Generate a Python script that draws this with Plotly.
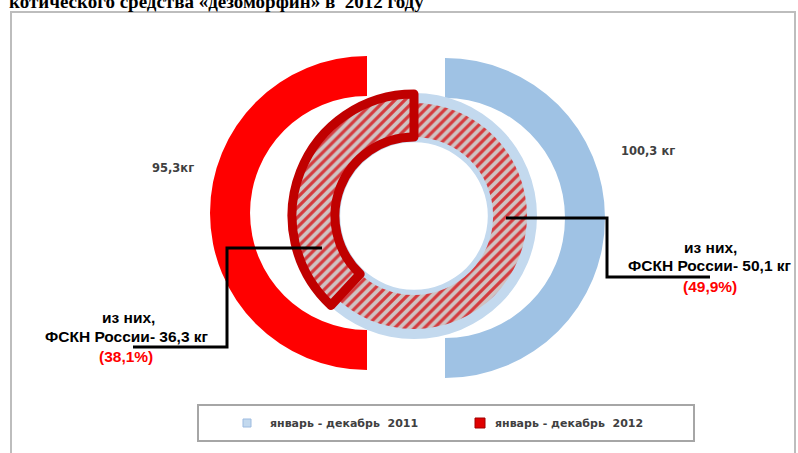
import plotly.graph_objects as go

# data
periods = ["январь - декабрь\u00a0 2011", "январь - декабрь\u00a0 2012"]
total_kg = [100.3, 95.3]
fskn_kg = [50.1, 36.3]
fskn_share = [49.9, 38.1]

W, H = 798, 453

RED = "#ff0000"
DARK_RED = "#c00000"
BLUE = "#9fc2e4"
LIGHT_BLUE = "#c3d9ee"
HATCH_FG = "#d43a3e"
HATCH_BG = "#cfc3c3"
CLEAR = "rgba(0,0,0,0)"


def fmt(v):
    return f"{v:.1f}".replace(".", ",")


def dom(cx, cy, r):
    # pie domain (paper fractions) from a centre and radius in pixels
    return dict(x=[(cx - r) / W, (cx + r) / W], y=[1 - (cy + r) / H, 1 - (cy - r) / H])


def px(x, y):
    return x / W, 1 - y / H


fig = go.Figure()

common = dict(sort=False, textinfo="none", hoverinfo="skip", showlegend=False,
              direction="clockwise", rotation=0)

# outer half ring 2012 (left): clear right half, red left half
fig.add_trace(go.Pie(values=[total_kg[1], total_kg[1]],
                     marker=dict(colors=[CLEAR, RED], line=dict(width=0)),
                     hole=0.745, domain=dom(367, 213, 157), **common))
# outer half ring 2011 (right)
fig.add_trace(go.Pie(values=[total_kg[0], total_kg[0]],
                     marker=dict(colors=[BLUE, CLEAR], line=dict(width=0)),
                     hole=0.75, domain=dom(445, 218, 160), **common))
# inner ring 2011 - light blue base
fig.add_trace(go.Pie(values=[total_kg[0]],
                     marker=dict(colors=[LIGHT_BLUE], line=dict(width=0)),
                     hole=0.6, domain=dom(414, 216, 123), **common))
# inner ring 2011 - hatched band
fig.add_trace(go.Pie(values=[total_kg[0]],
                     marker=dict(colors=[HATCH_BG], line=dict(width=0),
                                 pattern=dict(shape="/", fgcolor=HATCH_FG, bgcolor=HATCH_BG,
                                              size=7, solidity=0.45, fillmode="replace")),
                     hole=0.70, domain=dom(414, 216, 113), **common))
# inner segment 2012 - FSKN share, runs counterclockwise from 12 o'clock
fig.add_trace(go.Pie(values=[total_kg[1] - fskn_kg[1], fskn_kg[1]],
                     marker=dict(colors=[CLEAR, HATCH_BG],
                                 line=dict(color=[CLEAR, DARK_RED], width=[0, 9]),
                                 pattern=dict(shape=["", "/"], fgcolor=[CLEAR, HATCH_FG],
                                              bgcolor=[CLEAR, HATCH_BG],
                                              size=7, solidity=0.45, fillmode="replace")),
                     hole=0.648, domain=dom(414, 216, 122), **common))

shapes = []
# outer frame
x0, y0 = px(11, 12)
x1, _ = px(795, 0)
shapes.append(dict(type="rect", xref="paper", yref="paper", x0=x0, x1=x1, y0=-0.1, y1=y0,
                   line=dict(color="#bdbdbd", width=2), fillcolor="white", layer="below"))

# leader lines
for pts in ([(322, 248), (227, 248), (227, 347), (133, 347)],
            [(506, 218), (607, 218), (607, 277), (710, 277)]):
    path = "M " + " L ".join(f"{px(a, b)[0]},{px(a, b)[1]}" for a, b in pts)
    shapes.append(dict(type="path", xref="paper", yref="paper", path=path,
                       line=dict(color="black", width=3)))

# legend box and swatches
lx0, ly0 = px(198, 405)
lx1, ly1 = px(694, 441)
shapes.append(dict(type="rect", xref="paper", yref="paper", x0=lx0, x1=lx1, y0=ly1, y1=ly0,
                   line=dict(color="#a6a6a6", width=2)))
for (cx, cy, s, fc, lc) in [(247, 423, 8, LIGHT_BLUE, "#9dbbe0"), (480, 423, 10, "#e00000", "#a00000")]:
    a0, b0 = px(cx - s / 2, cy - s / 2)
    a1, b1 = px(cx + s / 2, cy + s / 2)
    shapes.append(dict(type="rect", xref="paper", yref="paper", x0=a0, x1=a1, y0=b1, y1=b0,
                       fillcolor=fc, line=dict(color=lc, width=1)))

annotations = []


def note(text, x, y, size, color="black", family="Liberation Sans", bold=True, xanchor="center"):
    ax, ay = px(x, y)
    annotations.append(dict(text=f"<b>{text}</b>" if bold else text, x=ax, y=ay, xref="paper",
                            yref="paper", xanchor=xanchor, yanchor="middle", showarrow=False,
                            font=dict(family=family, size=size, color=color)))


# cut-off title
note("котического средства «дезоморфин» в\u00a0 2012 году", 7, 1, 19,
     family="Liberation Serif", xanchor="left")

# totals
note(fmt(total_kg[1]) + "кг", 173, 168, 11.5, color="#404040", family="DejaVu Sans")
note(fmt(total_kg[0]) + " кг", 648, 151, 11.5, color="#404040", family="DejaVu Sans")

# FSKN labels
note("из них,", 128, 317, 15.5)
note(f"ФСКН России- {fmt(fskn_kg[1])} кг", 127, 336, 15.5)
note(f"({fmt(fskn_share[1])}%)", 126, 356, 15.5, color=RED)
note("из них,", 710, 247, 15.5)
note(f"ФСКН России- {fmt(fskn_kg[0])} кг", 710, 265, 15.5)
note(f"({fmt(fskn_share[0])}%)", 710, 286, 15.5, color=RED)

# legend texts
note(periods[0], 268, 423, 11, color="#404040", family="DejaVu Sans", xanchor="left")
note(periods[1], 493, 423, 11, color="#404040", family="DejaVu Sans", xanchor="left")

fig.update_layout(width=W, height=H, margin=dict(l=0, r=0, t=0, b=0),
                  paper_bgcolor="white", plot_bgcolor="white",
                  shapes=shapes, annotations=annotations, showlegend=False)

fig.write_html("out.html", config={"displayModeBar": False},
               post_script="document.body.style.margin='0';")
